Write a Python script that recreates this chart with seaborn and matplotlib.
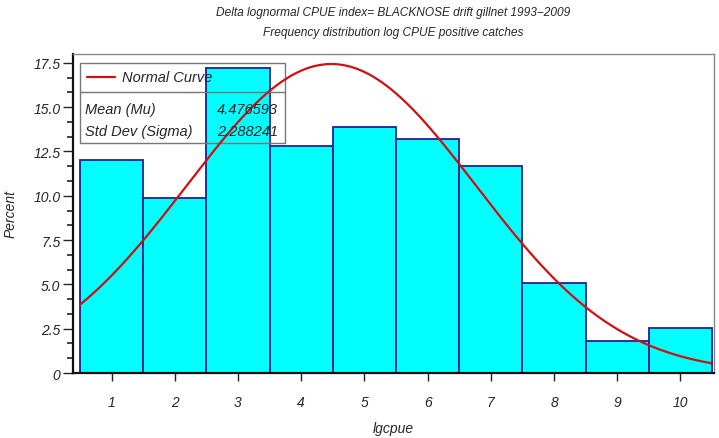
import numpy as np
import pandas as pd
import matplotlib
matplotlib.use("Agg")
import matplotlib.pyplot as plt
import seaborn as sns
from matplotlib.patches import Rectangle
from matplotlib.lines import Line2D
from matplotlib.ticker import MultipleLocator

# Histogram of lgcpue (percent of positive catches per unit-wide bin)
bin_centers = [1, 2, 3, 4, 5, 6, 7, 8, 9, 10]
percent = [12.0, 9.85, 17.2, 12.8, 13.9, 13.2, 11.7, 5.1, 1.8, 2.55]

# Fitted normal parameters
mu = 4.476593
sigma = 2.288241

title_lines = ["Delta lognormal CPUE index= BLACKNOSE drift gillnet 1993\u22122009",
               "Frequency distribution log CPUE positive catches"]

sns.set_style("white")
plt.rcParams["font.family"] = ["Liberation Sans", "DejaVu Sans"]
plt.rcParams["font.style"] = "italic"

fig = plt.figure(figsize=(7.19, 4.39), dpi=100)
ax = fig.add_axes([73 / 719, 1 - 374 / 439, 641 / 719, 319 / 439])

df = pd.DataFrame({"lgcpue": bin_centers, "pct": percent})
sns.histplot(data=df, x="lgcpue", weights="pct", binwidth=1.0, binrange=(0.5, 10.5),
             ax=ax, color="#00FFFF", edgecolor="#1F1F9A", linewidth=1.3, alpha=1.0,
             zorder=2)

# Normal curve scaled to percent per unit bin
xs = np.linspace(0.5, 10.5, 300)
ys = 100 * 1.0 / (sigma * np.sqrt(2 * np.pi)) * np.exp(-0.5 * ((xs - mu) / sigma) ** 2)
sns.lineplot(x=xs, y=ys, ax=ax, color="#D01010", linewidth=1.6, zorder=4)

ax.set_xlim(0.39, 10.53)
ax.set_ylim(0, 18.0)
ax.set_xticks(bin_centers)
ax.set_xticklabels([str(v) for v in bin_centers])
ax.yaxis.set_minor_locator(MultipleLocator(2.5 / 3))
ax.set_yticks(np.arange(0, 18, 2.5))
ax.set_yticklabels(["0"] + [f"{v:.1f}" for v in np.arange(2.5, 18, 2.5)])
ax.tick_params(axis="x", which="major", direction="out", length=6, width=1,
               labelsize=10, color="#222222", pad=10, bottom=True)
ax.tick_params(axis="y", which="major", direction="out", length=7, width=1,
               labelsize=10, color="#222222", pad=2, left=True)
ax.tick_params(axis="y", which="minor", direction="out", length=4, width=1.2,
               color="#222222", left=True)
ax.tick_params(axis="x", which="minor", bottom=False)
for lab in ax.get_xticklabels() + ax.get_yticklabels():
    lab.set_fontstyle("italic")

for side in ["top", "right"]:
    ax.spines[side].set_color("#888888")
    ax.spines[side].set_linewidth(1.0)
for side in ["left", "bottom"]:
    ax.spines[side].set_color("#111111")
    ax.spines[side].set_linewidth(1.6)

ax.set_xlabel("lgcpue", fontsize=10, fontstyle="italic")
ax.set_ylabel("Percent", fontsize=10, fontstyle="italic")
ax.xaxis.set_label_coords(0.5, -0.150)
ax.yaxis.set_label_coords(-0.086, 0.5)

# Inset legend / statistics box
bx0, bx1 = 0.011, 0.331
by0, by1, bdiv = 0.721, 0.972, 0.881
ax.add_patch(Rectangle((bx0, by0), bx1 - bx0, by1 - by0, transform=ax.transAxes,
                       fill=False, edgecolor="#777777", linewidth=1.0, zorder=3))
ax.add_line(Line2D([bx0, bx1], [bdiv, bdiv], transform=ax.transAxes,
                   color="#777777", linewidth=1.0, zorder=3))
ax.add_line(Line2D([0.022, 0.066], [0.927, 0.927], transform=ax.transAxes,
                   color="#D01010", linewidth=1.6, zorder=3))
ax.text(0.077, 0.927, "Normal Curve", transform=ax.transAxes, fontsize=10.5,
        va="center", ha="left", fontstyle="italic", zorder=5)
ax.text(0.019, 0.828, "Mean (Mu)", transform=ax.transAxes, fontsize=10.5,
        va="center", ha="left", fontstyle="italic", zorder=5)
ax.text(0.019, 0.758, "Std Dev (Sigma)", transform=ax.transAxes, fontsize=10.5,
        va="center", ha="left", fontstyle="italic", zorder=5)
ax.text(0.320, 0.828, f"{mu:.6f}", transform=ax.transAxes, fontsize=10.5,
        va="center", ha="right", fontstyle="italic", zorder=5)
ax.text(0.320, 0.758, f"{sigma:.6f}", transform=ax.transAxes, fontsize=10.5,
        va="center", ha="right", fontstyle="italic", zorder=5)

fig.text(393 / 719, 1 - 13 / 439, title_lines[0], ha="center", va="center",
         fontsize=8.6, fontstyle="italic")
fig.text(393 / 719, 1 - 33 / 439, title_lines[1], ha="center", va="center",
         fontsize=8.6, fontstyle="italic")

fig.savefig("out.png", dpi=100, facecolor="white")
